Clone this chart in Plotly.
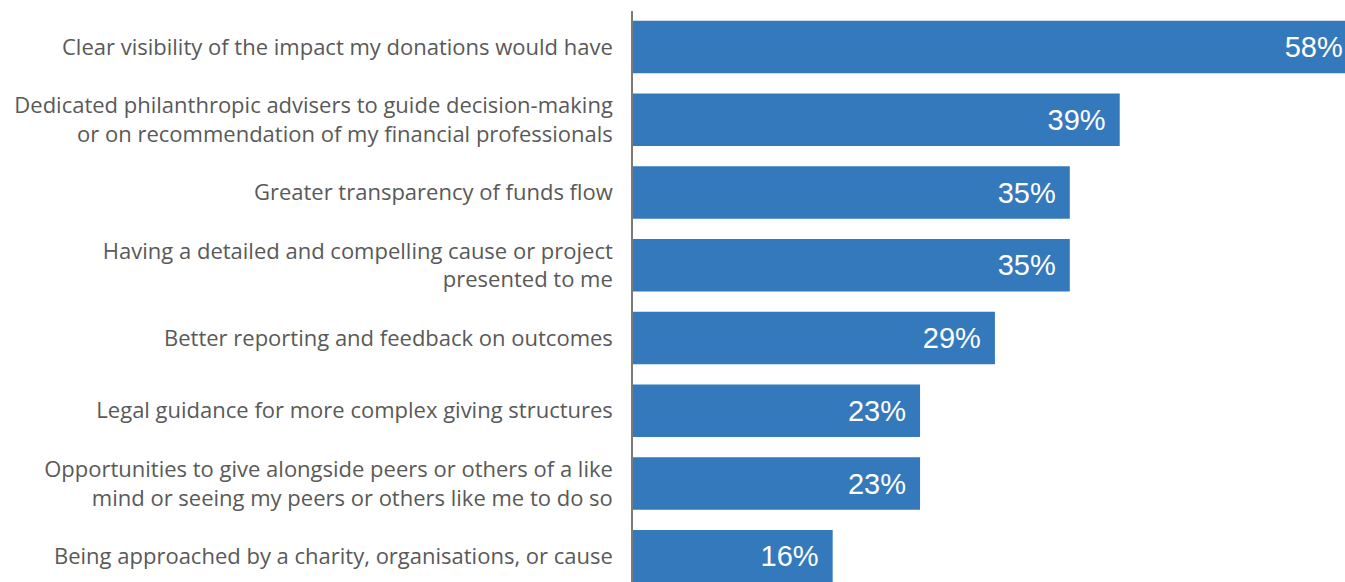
import plotly.graph_objects as go

# Survey responses: what would encourage more giving (share of respondents, %)
categories = [
    "Clear visibility of the impact my donations would have",
    "Dedicated philanthropic advisers to guide decision-making<br>or on recommendation of my financial professionals",
    "Greater transparency of funds flow",
    "Having a detailed and compelling cause or project<br>presented to me",
    "Better reporting and feedback on outcomes",
    "Legal guidance for more complex giving structures",
    "Opportunities to give alongside peers or others of a like<br>mind or seeing my peers or others like me to do so",
    "Being approached by a charity, organisations, or cause",
]
values = [58, 39, 35, 35, 29, 23, 23, 16]

BAR_COLOR = "#3579BD"
LABEL_COLOR = "#595959"

# value labels sit inside the bar end, with a little extra breathing room
bar_text = [f"{v}%<span style='font-size:20px'>\u00a0\u00a0</span>" for v in values]

fig = go.Figure(
    go.Bar(
        x=values,
        y=categories,
        orientation="h",
        marker=dict(color=BAR_COLOR, line=dict(width=0)),
        text=bar_text,
        textposition="inside",
        insidetextanchor="end",
        textangle=0,
        textfont=dict(family="Liberation Sans, Arial, sans-serif", size=29, color="white"),
        cliponaxis=True,
        hoverinfo="skip",
    )
)

fig.update_layout(
    width=1345,
    height=582,
    margin=dict(l=633, r=0, t=11, b=0, pad=0),
    paper_bgcolor="white",
    plot_bgcolor="white",
    bargap=0.277,
    showlegend=False,
    font=dict(family="Open Sans, sans-serif", size=22, color=LABEL_COLOR),
)

fig.update_xaxes(
    range=[0, 57.05],
    showgrid=False,
    zeroline=False,
    showline=False,
    showticklabels=False,
    ticks="",
    fixedrange=True,
)

fig.update_yaxes(
    categoryorder="array",
    categoryarray=categories,
    range=[7.353, -0.4945],
    showgrid=False,
    zeroline=False,
    showline=True,
    linecolor="#7a7a7a",
    linewidth=1.5,
    ticks="",
    ticklabelstandoff=14,
    tickfont=dict(family="Open Sans, sans-serif", size=22, color=LABEL_COLOR),
    fixedrange=True,
)

fig.write_html("out.html", config={"displayModeBar": False})
